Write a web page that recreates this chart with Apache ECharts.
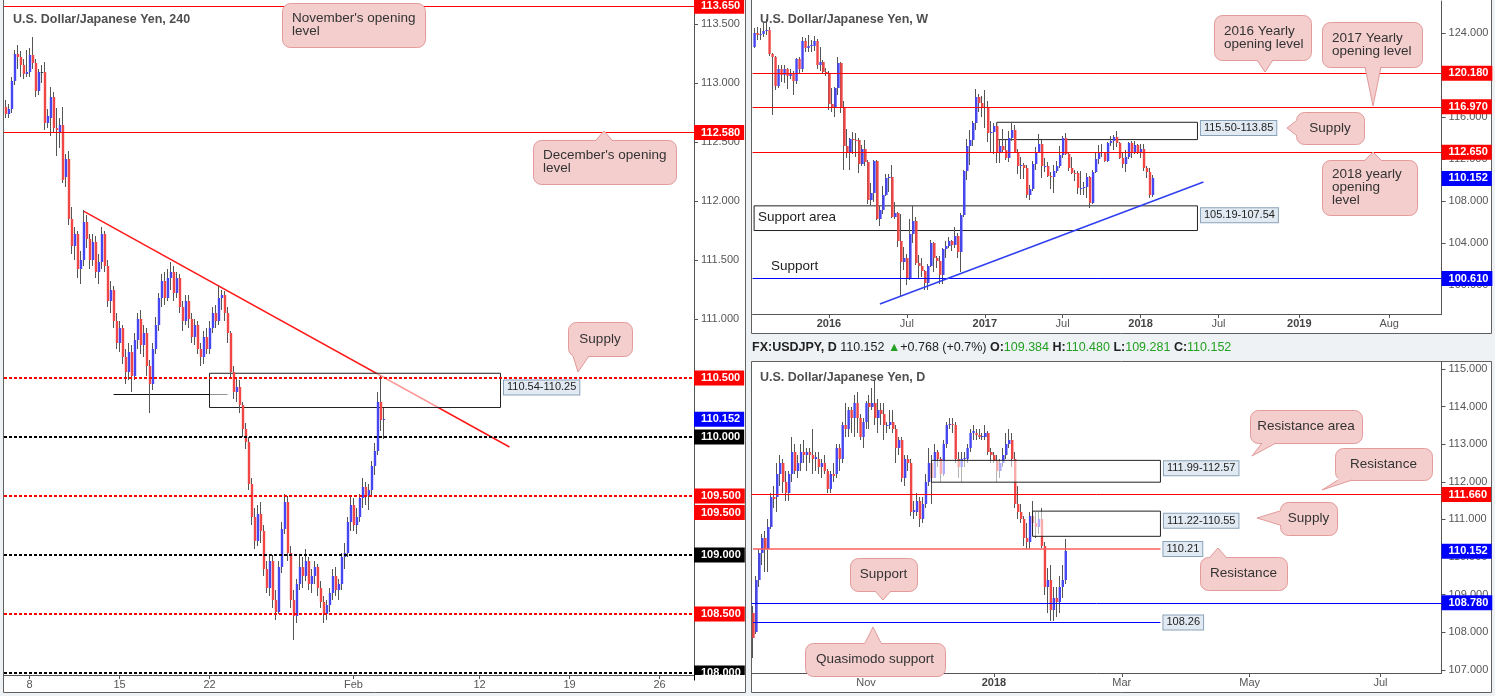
<!DOCTYPE html>
<html><head><meta charset="utf-8">
<script src="https://cdn.jsdelivr.net/npm/echarts@6/dist/echarts.min.js"></script>
<style>html,body{margin:0;padding:0;background:#eff2f5}#c{width:1495px;height:696px}</style>
</head><body><div id="c"></div><script>
// ---------------- DATA ----------------
// 4-hour candles [open, close, low, high], first bar 2018-01-04 16:00
const h4Data = [
[112.80,112.74,112.70,112.86],[112.74,112.78,112.70,112.82],[112.78,113.02,112.75,113.05],[113.02,113.25,112.98,113.28],
[113.25,113.22,113.12,113.32],[113.22,113.15,113.05,113.27],[113.15,113.08,113.03,113.20],[113.08,113.09,113.05,113.28],
[113.09,113.24,113.05,113.30],[113.24,113.17,113.12,113.39],[113.17,112.93,112.88,113.20],[112.93,113.09,112.90,113.12],
[113.09,113.09,113.00,113.15],[113.09,112.66,112.60,113.18],[112.66,112.72,112.62,112.78],[112.70,112.88,112.55,112.97],
[112.88,112.62,112.58,112.92],[112.62,112.60,112.38,112.79],[112.58,112.64,112.45,112.70],[112.64,112.18,112.15,112.80],
[112.20,112.36,112.12,112.40],[112.36,111.85,111.80,112.42],[111.85,111.62,111.55,111.95],[111.62,111.72,111.50,111.78],
[111.72,111.42,111.35,111.75],[111.42,111.50,111.30,111.58],[111.50,111.82,111.45,111.92],[111.82,111.68,111.60,111.88],
[111.68,111.50,111.42,111.72],[111.50,111.65,111.45,111.72],[111.65,111.40,111.35,111.70],[111.40,111.48,111.30,111.55],
[111.48,111.72,111.42,111.78],[111.72,111.45,111.40,111.75],[111.45,111.15,111.10,111.50],[111.15,111.25,111.05,111.32],
[111.25,110.98,110.92,111.28],[110.98,110.80,110.75,111.05],[110.80,110.92,110.72,110.98],[110.92,110.68,110.62,110.95],
[110.68,110.55,110.45,110.75],[110.55,110.72,110.48,110.80],[110.72,110.52,110.38,110.78],[110.52,110.82,110.48,110.88],
[110.82,111.00,110.75,111.05],[111.00,110.78,110.70,111.08],[110.78,110.88,110.68,110.95],[110.88,110.60,110.52,110.92],
[110.60,110.45,110.20,110.65],[110.45,110.75,110.40,110.80],[110.75,110.95,110.70,111.02],[110.95,111.18,110.90,111.22],
[111.18,111.32,111.10,111.38],[111.32,111.18,111.12,111.40],[111.18,111.35,111.15,111.42],[111.35,111.40,111.25,111.48],
[111.40,111.22,111.15,111.45],[111.22,111.35,111.18,111.40],[111.35,111.10,111.05,111.38],[111.10,110.98,110.90,111.15],
[110.98,111.15,110.95,111.20],[111.15,111.00,110.92,111.20],[111.00,110.85,110.80,111.05],[110.85,110.95,110.78,111.00],
[110.95,110.75,110.70,110.98],[110.75,110.68,110.60,110.80],[110.68,110.85,110.62,110.90],[110.85,110.75,110.70,110.92],
[110.75,110.92,110.70,110.98],[110.92,111.05,110.88,111.10],[111.05,110.98,110.92,111.12],[110.98,111.18,110.95,111.28],
[111.18,111.20,111.08,111.25],[111.20,111.05,110.98,111.24],[111.05,110.88,110.80,111.10],[110.88,110.55,110.50,110.90],
[110.55,110.38,110.32,110.60],[110.38,110.42,110.30,110.50],[110.42,110.27,110.20,110.48],[110.27,110.07,110.00,110.30],
[110.07,109.96,109.90,110.12],[109.96,109.60,109.55,110.00],[109.60,109.32,109.25,109.65],[109.32,109.12,109.05,109.40],
[109.12,109.35,109.08,109.42],[109.35,109.20,109.10,109.45],[109.20,108.88,108.82,109.25],[108.88,108.72,108.68,108.95],
[108.72,108.95,108.65,109.00],[108.95,108.62,108.55,109.00],[108.62,108.52,108.45,108.70],[108.52,108.90,108.50,108.95],
[108.90,109.22,108.85,109.28],[109.22,109.45,109.18,109.52],[109.45,109.02,108.95,109.50],[109.02,108.62,108.55,109.08],
[108.62,108.48,108.28,108.70],[108.48,108.75,108.42,108.80],[108.75,108.90,108.70,109.00],[108.90,108.82,108.72,108.98],
[108.82,108.95,108.78,109.05],[108.95,108.75,108.70,108.98],[108.75,108.82,108.68,108.88],[108.82,108.90,108.75,108.95],
[108.90,108.72,108.65,108.92],[108.72,108.60,108.55,108.78],[108.60,108.50,108.42,108.65],[108.50,108.58,108.45,108.62],
[108.58,108.68,108.52,108.72],[108.68,108.82,108.62,108.88],[108.82,108.70,108.65,108.90],[108.70,108.75,108.62,108.80],
[108.75,108.98,108.70,109.02],[108.98,109.02,108.88,109.10],[109.02,109.28,108.98,109.32],[109.28,109.42,109.20,109.50],
[109.42,109.25,109.20,109.48],[109.25,109.32,109.18,109.40],[109.32,109.48,109.28,109.52],[109.48,109.58,109.40,109.65],
[109.58,109.50,109.42,109.62],[109.50,109.55,109.38,109.60],[109.55,109.75,109.50,109.80],[109.75,109.88,109.68,109.95],
[109.88,110.30,109.85,110.38],[110.30,110.14,110.05,110.52],[110.14,110.15,109.98,110.25]
];
// weekly candles [open, close, low, high], first bar week of 2015-07-13
const wkData = [
[122.7,124.0,122.6,124.5],[124.0,123.8,123.3,124.6],[123.8,123.9,123.3,124.5],[123.9,124.2,123.6,125.0],[124.2,124.3,123.8,125.3],
[124.3,122.0,121.8,124.6],[122.0,121.7,116.2,122.1],[121.7,119.0,118.6,121.8],[119.0,120.6,118.8,121.0],[120.6,120.0,119.3,121.0],
[120.0,120.6,119.2,121.0],[120.6,119.9,118.7,120.7],[119.9,120.2,119.6,120.6],[120.2,119.4,118.1,120.4],[119.4,121.5,119.1,121.6],
[121.5,120.6,120.1,121.7],[120.6,123.2,120.3,123.6],[123.2,122.6,122.2,123.5],[122.6,122.8,122.2,123.8],[122.8,122.85,122.2,123.3],
[122.8,123.2,122.3,123.7],[123.2,121.0,120.6,123.4],[121.0,121.2,120.4,122.7],[121.2,120.3,120.2,121.4],[120.3,120.2,119.9,120.7],
[120.2,117.2,116.7,120.4],[117.2,117.0,116.5,118.8],[117.0,118.8,116.0,118.9],[118.8,121.1,118.1,121.7],[121.1,116.9,116.4,121.2],
[116.9,113.2,111.0,117.5],[113.2,112.6,112.1,114.9],[112.6,113.9,111.0,114.0],[113.9,113.8,112.5,114.6],[113.8,113.75,112.2,114.5],
[113.8,111.5,110.7,114.0],[111.5,113.0,111.3,113.3],[113.0,111.7,111.3,113.8],[111.7,108.1,107.7,111.9],[108.1,108.8,107.6,109.7],
[108.8,111.8,107.9,111.9],[111.8,106.3,106.2,111.9],[106.3,107.1,105.6,107.5],[107.1,108.6,106.8,109.4],[108.6,110.2,108.5,110.6],
[110.2,110.3,108.9,110.6],[110.3,106.5,106.4,111.4],[106.5,106.9,106.3,107.9],[106.9,104.2,103.6,107.0],[104.2,102.2,99.0,106.8],
[102.2,102.6,101.4,103.6],[102.6,100.6,99.99,103.0],[100.6,104.9,100.5,106.3],[104.9,106.1,104.0,107.5],[106.1,102.1,101.9,106.5],
[102.1,101.8,100.7,102.9],[101.8,101.3,100.8,102.6],[101.3,100.2,99.55,101.4],[100.2,101.8,99.5,102.0],[101.8,104.0,101.7,104.3],
[104.0,102.6,101.2,104.1],[102.6,102.3,101.6,102.8],[102.3,101.0,100.1,102.8],[101.0,103.4,100.1,103.5],[103.4,103.7,102.6,104.2],
[103.7,104.2,103.5,104.6],[104.2,103.8,103.2,104.3],[103.8,104.7,103.5,105.5],[104.7,103.1,102.6,105.0],[103.1,106.7,101.2,106.9],
[106.7,110.9,106.5,111.0],[110.9,113.2,110.0,113.9],[113.2,113.8,111.4,114.8],[113.8,115.4,113.2,115.6],[115.4,117.9,114.8,118.7],
[117.9,117.3,116.5,118.2],[117.3,116.9,116.0,118.0],[116.9,117.0,115.0,118.6],[117.0,114.5,113.6,117.5],[114.5,114.6,112.6,115.6],
[114.6,115.1,112.5,115.4],[115.1,112.6,111.6,115.2],[112.6,113.2,111.6,113.9],[113.2,112.9,112.6,114.9],[112.9,112.1,111.9,113.8],
[112.1,114.0,111.7,114.7],[114.0,114.8,113.7,115.5],[114.8,112.7,112.6,115.2],[112.7,111.3,110.6,113.0],[111.3,111.4,110.1,112.2],
[111.4,111.1,110.1,111.6],[111.1,108.6,108.3,111.4],[108.6,109.1,108.1,109.5],[109.1,111.5,109.0,111.8],[111.5,112.7,111.0,113.1],
[112.7,113.4,112.6,114.4],[113.4,111.3,110.2,113.8],[111.3,111.35,110.8,112.1],[111.3,110.4,110.3,111.7],[110.4,110.3,109.1,110.8],
[110.3,110.9,108.8,111.4],[110.9,111.3,110.7,111.8],[111.3,112.4,111.1,113.2],[112.4,114.0,112.1,114.2],[114.0,112.5,112.4,114.5],
[112.5,111.1,110.9,112.6],[111.1,110.7,110.6,112.2],[110.7,110.68,109.9,111.0],[110.7,109.2,108.7,110.9],[109.2,109.25,108.6,110.9],
[109.2,109.3,108.6,109.8],[109.3,110.3,108.3,110.7],[110.3,107.8,107.3,110.4],[107.8,110.8,107.7,111.0],[110.8,112.0,110.7,112.7],
[112.0,112.6,111.5,113.3],[112.6,112.65,112.2,113.4],[112.6,111.8,111.7,112.7],[111.8,113.5,111.7,113.6],[113.5,113.7,113.2,114.2],
[113.7,114.1,112.9,114.3],[114.1,113.5,113.1,114.7],[113.5,112.1,112.0,113.6],[112.1,111.5,111.1,112.7],[111.5,112.2,110.8,112.9],
[112.2,113.5,112.0,113.6],[113.5,112.6,112.1,113.7],[112.6,113.3,112.5,113.7],[113.3,112.7,112.5,113.4],[112.7,113.0,112.1,113.4],
[113.0,111.1,110.9,113.4],[111.1,110.8,110.2,111.3],[110.8,108.6,108.3,111.1],[108.6,110.2,108.4,110.5]
];
// daily candles [open, close, low, high], first bar 2017-09-08
const dyData = [
[108.50,107.84,107.32,108.70],[108.00,109.40,107.95,109.50],[109.40,110.10,109.20,110.20],[110.10,110.50,109.80,110.60],[110.50,110.20,109.60,110.70],
[110.20,110.80,109.60,111.00],[110.80,111.60,110.75,111.70],[111.60,111.55,111.30,111.90],[111.60,112.20,111.20,112.50],[112.20,112.50,111.90,112.70],
[112.50,112.00,111.70,112.60],[112.00,111.70,111.50,112.30],[111.70,112.20,111.50,112.30],[112.20,112.80,112.00,113.20],[112.80,112.30,112.20,113.00],
[112.30,112.50,112.10,112.70],[112.50,112.80,112.30,113.00],[112.80,112.70,112.50,113.10],[112.70,112.80,112.30,112.90],[112.80,112.70,112.50,112.90],
[112.70,112.60,112.20,113.40],[112.60,112.65,112.30,112.80],[112.60,112.40,112.20,112.80],[112.40,112.50,112.10,112.60],[112.50,112.30,112.20,112.70],
[112.30,111.80,111.70,112.35],[111.80,112.20,111.70,112.30],[112.20,112.15,112.00,112.50],[112.20,112.90,112.10,113.00],[112.90,112.60,112.30,113.00],
[112.60,113.50,112.50,113.60],[113.50,113.40,113.20,114.10],[113.40,113.90,113.20,114.00],[113.90,113.70,113.30,114.00],[113.70,114.10,113.20,114.30],
[114.10,113.70,113.30,114.40],[113.70,113.20,113.10,113.80],[113.20,113.60,112.90,113.70],[113.60,114.10,113.40,114.15],[114.10,114.00,113.40,114.30],
[114.00,114.10,113.90,114.50],[114.10,113.70,113.50,114.70],[113.70,113.90,113.30,114.20],[113.90,113.80,113.50,114.10],[113.80,113.50,113.10,114.10],
[113.50,113.52,113.30,113.60],[113.50,113.60,113.40,113.90],[113.60,113.40,113.30,113.90],[113.40,112.90,112.50,113.50],[112.90,113.10,112.70,113.20],
[113.10,112.10,112.00,113.20],[112.10,112.60,111.90,112.70],[112.60,112.50,112.30,112.70],[112.50,111.20,111.10,112.60],[111.20,111.25,111.00,111.50],
[111.20,111.50,111.10,111.70],[111.50,111.00,110.80,111.60],[111.00,111.40,110.90,111.60],[111.40,112.00,111.30,112.20],[112.00,112.50,111.90,112.90],
[112.50,112.10,111.40,112.70],[112.10,112.80,112.10,113.00],[112.80,112.60,112.40,112.85],[112.60,112.20,112.00,112.65],[112.20,113.00,112.15,113.10],
[113.00,113.50,112.90,113.60],[113.50,113.55,113.40,113.70],[113.55,113.50,113.30,113.70],[113.50,112.60,112.50,113.60],[112.60,112.40,112.10,112.80],
[112.40,112.60,112.00,112.80],[112.60,112.62,112.40,112.80],[112.60,112.90,112.50,113.00],[112.90,113.30,112.80,113.40],[113.30,113.35,113.10,113.50],
[113.30,113.25,113.10,113.40],[113.25,113.20,113.15,113.40],[113.20,113.22,113.10,113.30],[113.20,113.30,113.10,113.50],[113.30,112.80,112.70,113.35],
[112.80,112.70,112.50,112.90],[112.70,112.55,112.50,112.80],[112.55,112.30,112.00,112.70],[112.30,112.50,112.10,112.60],[112.50,112.70,112.40,112.90],
[112.70,113.00,112.60,113.30],[113.00,113.10,112.90,113.40],[113.10,112.60,112.40,113.30],[112.60,111.40,111.30,112.80],[111.40,111.20,111.00,111.90],
[111.20,111.00,110.90,111.40],[111.00,110.50,110.30,111.10],[110.50,110.40,110.20,110.90],[110.40,111.10,110.20,111.20],[111.10,110.90,110.60,111.50],
[110.90,110.80,110.50,111.20],[110.80,111.00,110.60,111.20],[111.00,110.30,110.25,111.30],[110.30,109.20,109.00,110.40],[109.20,109.40,108.50,109.70],
[109.40,108.60,108.30,109.80],[108.60,108.90,108.30,109.20],[108.90,108.80,108.40,109.20],[108.80,109.20,108.50,109.50],[109.20,109.40,108.90,109.80],
[109.38,110.15,109.28,110.48]
];

// tick labels (category -> text)
const h4TickCats = ['2018-01-08 00:00','2018-01-15 00:00','2018-01-22 00:00','2018-02-01 00:00','2018-02-12 00:00','2018-02-19 00:00','2018-02-26 00:00'];
const h4TickLabels = ['8','15','22','Feb','12','19','26'];
const wkTickCats = ['2016-01-04','2016-07-04','2017-01-02','2017-07-03','2018-01-01','2018-07-02','2019-01-07','2019-08-05'];
const wkTickLabels = ['2016','Jul','2017','Jul','2018','Jul','2019','Aug'];
const dyTickCats = ['2017-11-01','2018-01-01','2018-03-01','2018-05-01','2018-07-02'];
const dyTickLabels = ['Nov','2018','Mar','May','Jul'];

// price-scale tick values
const h4AxisValues = [108,108.5,109,109.5,110,110.5,111,111.5,112,112.5,113,113.5];
const wkAxisValues = [100,104,108,112,116,120,124];
const dyAxisValues = [107,108,109,110,111,112,113,114,115];

// horizontal levels
const h4Levels = [113.65,112.58,110.5,110.152,110.0,109.5,109.36,109.0,108.5,108.0];
const h4LevelText = ['113.650','112.580','110.500','110.152','110.000','109.500','109.500','109.000','108.500','108.000'];
const h4LevelKind = ['redSolid','redSolid','redDash','priceTag','blackDash','redDash','redTag','blackDash','redDash','blackDash'];
const wkLevels = [120.18,116.97,112.65,110.152,100.61];
const wkLevelText = ['120.180','116.970','112.650','110.152','100.610'];
const wkLevelKind = ['redSolid','redSolid','redSolid','priceTag','blueSolid'];
const dyLevels = [111.66,110.152,108.78];
const dyLevelText = ['111.660','110.152','108.780'];
const dyLevelKind = ['redSolid','priceTag','blueSolid'];

// zones [startIndex, endIndex, top, bottom, label]
const h4Zones = [[68,165,110.54,110.25,'110.54-110.25']];
const wkZones = [[81,148,115.50,113.85,'115.50-113.85'],[0,148,107.54,105.19,'105.19-107.54']];
const dyZones = [[60,137,112.57,111.99,'111.99-112.57'],[94,137,111.22,110.55,'111.22-110.55']];
// partial levels [startIndex, endIndex, value, label]
const dyShortLevels = [[0,137,110.21,'110.21'],[0,137,108.26,'108.26']];
const h4ShortLevels = [[36,74,110.36]];
// trend lines [[i1,v1],[i2,v2]]
const h4Trend = [[26,111.915],[168,109.915]];
const wkTrend = [[42,98.19],[150,109.81]];
// header
const headerStats = {sym:'FX:USDJPY, D', last:'110.152', chg:'+0.768 (+0.7%)', o:'109.384', h:'110.480', l:'109.281', c:'110.152'};

// ---------------- CATEGORIES ----------------
function pad(n){return (n<10?'0':'')+n;}
function fmtDay(d){return d.getUTCFullYear()+'-'+pad(d.getUTCMonth()+1)+'-'+pad(d.getUTCDate());}
function makeCats(startMs, count, stepMs, skipWeekend, withHour){
  const out=[]; let t=startMs;
  while(out.length<count){
    const d=new Date(t); const wd=d.getUTCDay();
    if(!(skipWeekend && (wd===0||wd===6))){ out.push(withHour? fmtDay(d)+' '+pad(d.getUTCHours())+':00' : fmtDay(d)); }
    t+=stepMs;
  }
  return out;
}
const H=3600e3, D=24*H;
const h4Cats = makeCats(Date.UTC(2018,0,4,16), 230, 4*H, true, true);
const wkCats = makeCats(Date.UTC(2015,6,13), 230, 7*D, false, false);
const dyCats = makeCats(Date.UTC(2017,8,8), 232, D, true, false);

// ---------------- STYLE ----------------
const FONT = '"Liberation Sans", Arial, sans-serif';
const UP='#4646f2', DOWN='#f04646', DOJI='#23452a', WICK='#555555';
const LV = {
  redSolid:{line:{color:'#ff0000',width:1,type:'solid'},tag:'#ff0000'},
  redDash:{line:{color:'#ff0000',width:2,type:[3,2]},tag:'#ff0000'},
  blackDash:{line:{color:'#000000',width:2,type:[3,2]},tag:'#000000'},
  priceTag:{line:null,tag:'#0000ff'},
  redTag:{line:null,tag:'#ff0000'},
  blueSolid:{line:{color:'#0000ff',width:1,type:'solid'},tag:'#0000ff'}
};
const boxLabel = {show:true, position:'right', distance:3, offset:[0,-3], color:'#222', fontSize:11, fontFamily:FONT,
  backgroundColor:'#e1eaf2', borderColor:'#8aa2b8', borderWidth:1, padding:[2,3,1,3]};

function renderCandle(params, api){
  const i=api.value(0), o=api.value(1), c=api.value(2), l=api.value(3), h=api.value(4);
  const po=api.coord([i,o]), pc=api.coord([i,c]), pl=api.coord([i,l]), ph=api.coord([i,h]);
  const cx=po[0];
  const yTop=Math.round(Math.min(po[1],pc[1]));
  let yBot=Math.round(Math.max(po[1],pc[1]));
  if(yBot-yTop<1) yBot=yTop+1;
  const col = c>o?UP:(c<o?DOWN:DOJI);
  const hy=Math.round(ph[1]), ly=Math.round(pl[1]);
  const bw=2.4;
  return {type:'group', children:[
    {type:'rect', shape:{x:Math.floor(cx), y:hy, width:1, height:Math.max(1,ly-hy)}, style:{fill:WICK}},
    {type:'rect', shape:{x:cx-bw/2+0.5, y:yTop, width:bw, height:yBot-yTop}, style:{fill:col}}
  ]};
}
function levelItems(vals, texts, kinds){
  return vals.map((v,k)=>{
    const s=LV[kinds[k]];
    return {yAxis:v,
      lineStyle: s.line? {color:s.line.color, width:s.line.width, type:s.line.type, opacity:1} : {color:'rgba(0,0,0,0)', width:0},
      label:{show:true, position:'end', distance:0, formatter:texts[k], color:'#fff', fontWeight:'bold', fontSize:11,
        fontFamily:FONT, backgroundColor:s.tag, padding:[2,4,1,7], lineHeight:12}};
  });
}
function zoneItems(zones, fill){
  return zones.map(z=>[
    {coord:[z[0],z[2]], itemStyle:{color:fill, borderColor:'#222', borderWidth:1}, label:Object.assign({formatter:z[4]}, boxLabel)},
    {coord:[z[1],z[3]]}
  ]);
}
function mkX(gi, cats, tickCats, tickLabels){
  const map={}; tickCats.forEach((c,k)=>{map[c]=tickLabels[k];});
  const f=(idx,val)=>map[val]!==undefined;
  return {type:'category', gridIndex:gi, data:cats, boundaryGap:true,
    axisLine:{show:true, lineStyle:{color:'#555', width:1}},
    axisTick:{show:true, alignWithLabel:true, interval:f, length:4, lineStyle:{color:'#555'}},
    axisLabel:{show:true, interval:f, margin:4, color:'#555', fontSize:11, fontFamily:FONT,
      formatter:(v)=>{const t=map[v]; if(t===undefined) return ''; return /^\d{4}$/.test(t)?'{y|'+t+'}':t;},
      rich:{y:{fontWeight:'bold', fontSize:11, color:'#444', fontFamily:FONT}}},
    splitLine:{show:false}};
}
function mkY(gi, min, max, vals){
  return {type:'value', gridIndex:gi, position:'right', min:min, max:max, scale:false,
    axisLine:{show:true, lineStyle:{color:'#555', width:1}},
    axisTick:{show:true, inside:false, length:4, lineStyle:{color:'#555'}, customValues:vals},
    axisLabel:{show:true, color:'#555', fontSize:11, fontFamily:FONT, margin:7, customValues:vals, formatter:(v)=>Number(v).toFixed(3)},
    splitLine:{show:false}};
}
function candleSeries(gi, data, z){
  return {type:'custom', xAxisIndex:gi, yAxisIndex:gi, z:z, silent:true, renderItem:renderCandle,
    dimensions:['i','o','c','l','h'], encode:{x:0, y:[1,2,3,4]},
    data:data.map((d,i)=>[i,d[0],d[1],d[2],d[3]])};
}

// ---------------- ANNOTATIONS ----------------
const CFILL='#f4cdcd', CSTROKE='#e39a9a';
function callout(x,y,w,h,text,base,tip,multi){
  const els=[{type:'rect', z:100, shape:{x:x+0.5,y:y+0.5,width:w,height:h,r:8}, style:{fill:CFILL, stroke:CSTROKE, lineWidth:1}}];
  if(tip){
    let dx=0,dy=0;
    if(tip[1]>y+h) dy=-2; else if(tip[1]<y) dy=2; else if(tip[0]<x) dx=2; else dx=-2;
    els.push({type:'polygon', z:101, shape:{points:[base[0],tip,base[1],[base[1][0]+dx,base[1][1]+dy],[base[0][0]+dx,base[0][1]+dy]]}, style:{fill:CFILL}});
    els.push({type:'polyline', z:102, shape:{points:[base[0],tip,base[1]]}, style:{stroke:CSTROKE, fill:null, lineWidth:1}});
  }
  els.push({type:'text', z:103, x: multi? x+10 : x+w/2, y: y+h/2,
    style:{text:text, fill:'#333', font:'13.5px '+FONT, align: multi?'left':'center', verticalAlign:'middle', lineHeight:13}});
  return els;
}
const graphics = [].concat(
  [
    {type:'rect', z:-100, shape:{x:3.5,y:-0.5,width:742,height:693}, style:{fill:'#fff', stroke:'#606060', lineWidth:1}},
    {type:'rect', z:-100, shape:{x:751.5,y:-0.5,width:740,height:334}, style:{fill:'#fff', stroke:'#606060', lineWidth:1}},
    {type:'rect', z:-100, shape:{x:751.5,y:361.5,width:740,height:331}, style:{fill:'#fff', stroke:'#606060', lineWidth:1}},
    {type:'rect', z:50, shape:{x:695,y:675,width:50,height:17}, style:{fill:'#fff'}},
    {type:'text', z:60, x:13, y:20, style:{text:'U.S. Dollar/Japanese Yen, 240', font:'bold 12.5px '+FONT, fill:'#4f4f4f', verticalAlign:'middle'}},
    {type:'text', z:60, x:760, y:20, style:{text:'U.S. Dollar/Japanese Yen, W', font:'bold 12.5px '+FONT, fill:'#4f4f4f', verticalAlign:'middle'}},
    {type:'text', z:60, x:760, y:378, style:{text:'U.S. Dollar/Japanese Yen, D', font:'bold 12.5px '+FONT, fill:'#4f4f4f', verticalAlign:'middle'}},
    {type:'text', z:60, x:758, y:217, style:{text:'Support area', font:'13.5px '+FONT, fill:'#222', verticalAlign:'middle'}},
    {type:'text', z:60, x:771, y:266, style:{text:'Support', font:'13.5px '+FONT, fill:'#222', verticalAlign:'middle'}},
    {type:'text', z:60, x:752, y:348, style:{
      text:'{b|'+headerStats.sym+'} {n|'+headerStats.last+'} {g|\u25B2}{n|'+headerStats.chg+'} {b|O:}{g|'+headerStats.o+'} {b|H:}{g|'+headerStats.h+'} {b|L:}{g|'+headerStats.l+'} {b|C:}{g|'+headerStats.c+'}',
      verticalAlign:'middle', font:'12.5px '+FONT,
      rich:{b:{fontWeight:'bold', fill:'#222', fontSize:12.5, fontFamily:FONT}, n:{fill:'#222', fontSize:12.5, fontFamily:FONT}, g:{fill:'#22a022', fontSize:12.5, fontFamily:FONT}}}}
  ],
  callout(282,3,143,44,"November's opening\nlevel",null,null,true),
  callout(533,140,143,44,"December's opening\nlevel",[[596,140],[612,140]],[604,131],true),
  callout(568,322,64,34,'Supply',[[573,356],[589,356]],[578,372],false),
  callout(1214,15,97,45,'2016 Yearly\nopening level',[[1257,60],[1273,60]],[1265,72],true),
  callout(1322,22,100,45,'2017 Yearly\nopening level',[[1365,67],[1381,67]],[1373,106],true),
  callout(1296,112,68,32,'Supply',[[1296,121],[1296,135]],[1287,128],false),
  callout(1322,160,95,55,'2018 yearly\nopening\nlevel',[[1365,160],[1381,160]],[1373,152],true),
  callout(1250,410,112,33,'Resistance area',[[1262,443],[1276,443]],[1252,456],false),
  callout(1335,448,97,32,'Resistance',[[1338,480],[1352,480]],[1322,490],false),
  callout(1280,502,57,33,'Supply',[[1280,511],[1280,525]],[1257,518],false),
  callout(1200,557,87,33,'Resistance',[[1210,557],[1226,557]],[1218,548],false),
  callout(850,558,67,33,'Support',[[875,591],[891,591]],[883,600],false),
  callout(805,643,140,33,'Quasimodo support',[[865,643],[881,643]],[873,627],false)
);

const option = {
  backgroundColor:'#eff2f5',
  animation:false,
  textStyle:{fontFamily:FONT},
  grid:[
    {left:4, top:1, width:690, height:674, containLabel:false, outerBoundsMode:'none', show:false},
    {left:752.6, top:1, width:689, height:313, containLabel:false, outerBoundsMode:'none', show:false},
    {left:751.5, top:362, width:690, height:311, containLabel:false, outerBoundsMode:'none', show:false}
  ],
  xAxis:[mkX(0,h4Cats,h4TickCats,h4TickLabels), mkX(1,wkCats,wkTickCats,wkTickLabels), mkX(2,dyCats,dyTickCats,dyTickLabels)],
  yAxis:[mkY(0,107.983,113.695,h4AxisValues), mkY(1,97.24,127.05,wkAxisValues), mkY(2,106.915,115.186,dyAxisValues)],
  series:[
    Object.assign(candleSeries(0,h4Data,3), {
      markLine:{silent:true, z:5, symbol:['none','none'], label:{show:false}, data:levelItems(h4Levels,h4LevelText,h4LevelKind)},
      markArea:{silent:true, z:2, data:zoneItems(h4Zones,'rgba(255,255,255,0.55)')}
    }),
    {type:'line', xAxisIndex:0, yAxisIndex:0, data:[], z:1, silent:true,
      markLine:{silent:true, z:1, symbol:['none','none'], label:{show:false}, data:[
        [{coord:h4Trend[0], lineStyle:{color:'#ff1a1a', width:1.5, type:'solid'}}, {coord:h4Trend[1]}]
      ].concat(h4ShortLevels.map(s=>[{coord:[s[0],s[2]], lineStyle:{color:'#111', width:1, type:'solid'}},{coord:[s[1],s[2]]}]))}},
    Object.assign(candleSeries(1,wkData,3), {
      markLine:{silent:true, z:5, symbol:['none','none'], label:{show:false}, data:levelItems(wkLevels,wkLevelText,wkLevelKind).concat([
        [{coord:wkTrend[0], lineStyle:{color:'#2f3ff0', width:1.5, type:'solid'}, label:{show:false}}, {coord:wkTrend[1]}]
      ])},
      markArea:{silent:true, z:2, data:zoneItems(wkZones,'rgba(255,255,255,0)')}
    }),
    Object.assign(candleSeries(2,dyData,3), {
      markLine:{silent:true, z:5, symbol:['none','none'], label:{show:false}, data:levelItems(dyLevels,dyLevelText,dyLevelKind).concat(
        dyShortLevels.map((s,k)=>[{coord:[s[0],s[2]], lineStyle:{color: k===0?'#ff5c5c':'#0000ff', width: k===0?1.5:1, type:'solid'},
          label:Object.assign({}, boxLabel, {position:'end', distance:3, offset:[0,0], formatter:s[3]})},{coord:[s[1],s[2]]}]))},
      markArea:{silent:true, z:4, data:zoneItems(dyZones,'rgba(255,255,255,0.55)')}
    })
  ],
  graphic:{elements:graphics}
};
const chart = echarts.init(document.getElementById('c'), null, {renderer:'canvas'});
chart.setOption(option);
</script></body></html>
